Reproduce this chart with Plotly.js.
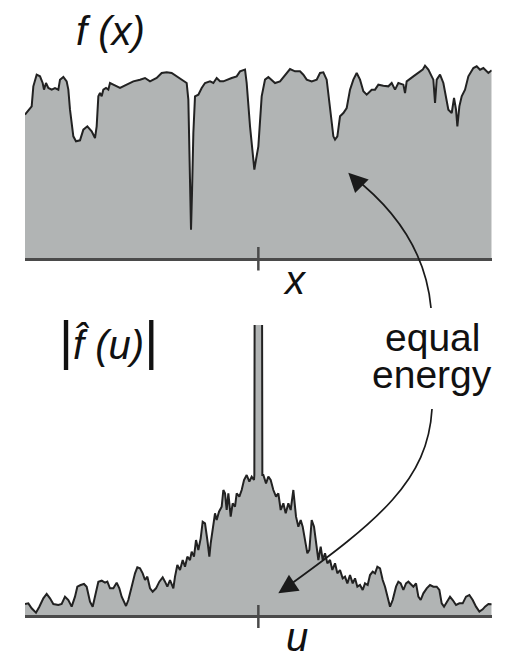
<!DOCTYPE html>
<html>
<head>
<meta charset="utf-8">
<script src="https://cdn.plot.ly/plotly-3.0.1.min.js"></script>
<style>html,body{margin:0;padding:0;background:#fff;}#chart{width:507px;height:653px;}</style>
</head>
<body>
<div id="chart"></div>
<script>
// Signal f(x): positions (x) and heights above the baseline
const signalX = [-700,-685,-680,-675,-665,-655,-647,-643,-637,-630,-620,-610,-600,-595,-585,-575,-570,-565,-555,-547,-535,-525,-513,-500,-490,-485,-480,-475,-470,-465,-457,-450,-445,-435,-415,-395,-375,-355,-340,-325,-305,-290,-275,-260,-245,-230,-220,-215,-210,-205,-202,-199,-195,-190,-180,-170,-160,-145,-135,-125,-115,-105,-95,-80,-65,-55,-40,-35,-25,-15,-12,-7,0,10,20,30,40,50,65,80,95,110,125,135,145,160,175,185,195,205,215,225,230,237,245,255,265,275,285,295,305,315,325,340,350,360,375,390,400,410,420,435,440,445,465,480,493,500,510,520,525,530,535,545,555,570,580,587,593,597,603,610,620,630,645,655,665,675,685,690,700];
const signalY = [430,450,455,515,550,545,525,505,525,510,505,510,505,535,543,530,505,445,365,350,353,385,395,380,360,395,485,495,485,505,510,505,525,520,510,520,530,535,540,530,540,555,557,555,545,535,530,525,475,175,85,195,375,485,490,510,525,530,525,540,530,530,535,540,545,560,565,525,395,295,265,295,335,485,535,543,535,525,530,550,567,560,560,550,535,530,535,555,557,535,455,365,355,365,425,435,450,505,535,555,535,500,490,505,505,520,517,515,525,505,525,520,495,530,545,555,565,577,565,545,535,465,535,550,525,445,435,480,445,395,455,485,505,545,570,575,565,570,560,555,563];

// Spectrum |f^(u)|: frequencies (u) and magnitudes (the central spike runs off the top)
const spectrumX = [-700,-690,-680,-667,-657,-645,-635,-625,-615,-600,-590,-580,-570,-560,-550,-543,-533,-523,-515,-505,-497,-490,-480,-470,-460,-453,-445,-435,-425,-417,-410,-397,-390,-380,-370,-363,-355,-347,-340,-333,-325,-317,-307,-297,-287,-280,-273,-265,-255,-250,-243,-235,-227,-220,-213,-205,-200,-193,-187,-180,-173,-167,-160,-153,-147,-143,-137,-130,-125,-118,-110,-105,-100,-95,-90,-83,-77,-70,-65,-57,-50,-43,-35,-27,-20,-13,-12,-11,-10,10,11,12,15,23,30,37,45,53,60,67,75,82,90,97,105,113,120,127,133,140,147,153,160,167,173,180,187,193,200,207,215,222,230,237,245,253,260,267,275,283,290,297,305,313,320,328,335,343,350,357,365,373,380,387,395,403,413,420,427,435,443,450,457,465,473,480,487,495,505,515,525,535,543,550,557,565,575,583,593,603,613,623,633,643,653,663,673,680,690,700];
const spectrumY = [33,35,20,7,25,50,63,50,33,30,33,55,45,25,55,85,90,93,85,40,25,55,100,103,97,100,80,80,97,80,55,27,45,85,125,143,140,125,105,115,80,70,80,100,113,100,85,105,80,115,150,135,165,145,175,165,190,175,225,195,230,280,275,225,175,215,265,305,285,310,325,375,365,315,365,295,335,325,365,355,375,405,420,400,415,405,420,1000,3000,3000,1000,420,420,395,415,405,375,355,365,315,335,305,335,315,375,295,265,285,265,225,185,195,285,265,215,165,205,165,185,155,165,135,155,125,135,110,115,95,120,95,110,85,90,75,95,90,120,130,125,145,140,105,85,55,25,45,85,100,95,75,95,100,93,85,95,55,45,65,80,90,85,85,75,35,25,40,55,45,30,35,35,55,60,45,25,10,17,25,33,32];

const xTitle = '<i>x</i>';
const uTitle = '<i>u</i>';
const fTitle = '<i>f (x)</i>';
const FTitle = '<span style="font-size:54px">|</span><i>f\u0302 (u)</i><span style="font-size:54px">|</span>';
const note1 = 'equal';
const note2 = 'energy';

const W = 507, H = 653;
const px = (x) => x / W;
const py = (y) => 1 - y / H;

const lineColor = '#222222';
const fillColor = '#b1b4b4';
const axisColor = '#4a4a4a';
const FONT = 'Liberation Sans, Arial, sans-serif';

const traces = [
  {x: signalX, y: signalY, type: 'scatter', mode: 'lines', fill: 'tozeroy',
   fillcolor: fillColor, line: {color: lineColor, width: 2}, xaxis: 'x', yaxis: 'y', hoverinfo: 'skip'},
  {x: spectrumX, y: spectrumY, type: 'scatter', mode: 'lines', fill: 'tozeroy',
   fillcolor: fillColor, line: {color: lineColor, width: 2}, xaxis: 'x2', yaxis: 'y2', hoverinfo: 'skip'}
];

const xdom = [px(25), px(491.7)];
const axX = {domain: xdom, range: [-700, 700], showgrid: false, zeroline: false, showticklabels: false,
  ticks: '', showline: true, linecolor: axisColor, linewidth: 3, fixedrange: true};
const axY = {showgrid: false, zeroline: false, showticklabels: false, ticks: '', showline: false, fixedrange: true};

const layout = {
  width: W, height: H,
  margin: {l: 0, r: 0, t: 0, b: 0, pad: 0},
  paper_bgcolor: '#ffffff', plot_bgcolor: 'rgba(0,0,0,0)',
  showlegend: false,
  font: {family: FONT, color: '#111'},
  xaxis: Object.assign({}, axX, {anchor: 'y'}),
  yaxis: Object.assign({}, axY, {domain: [py(258), py(60)], range: [0, 594], anchor: 'x'}),
  xaxis2: Object.assign({}, axX, {anchor: 'y2'}),
  yaxis2: Object.assign({}, axY, {domain: [py(615), py(325)], range: [0, 870], anchor: 'x2'}),
  shapes: [
    {type: 'line', xref: 'x', x0: 0, x1: 0, yref: 'paper', y0: py(247), y1: py(270.5), line: {color: axisColor, width: 2.5}},
    {type: 'line', xref: 'x2', x0: 0, x1: 0, yref: 'paper', y0: py(605), y1: py(628), line: {color: axisColor, width: 2.5}},
    {type: 'path', xref: 'paper', yref: 'paper',
     path: `M${px(431)},${py(308)} C${px(426)},${py(252)} ${px(396)},${py(210)} ${px(352)},${py(176)}`,
     line: {color: '#1a1a1a', width: 1.7}},
    {type: 'path', xref: 'paper', yref: 'paper',
     path: `M${px(432)},${py(409)} C${px(428)},${py(480)} ${px(380)},${py(520)} ${px(284)},${py(589)}`,
     line: {color: '#1a1a1a', width: 1.7}}
  ],
  annotations: [
    {xref: 'paper', yref: 'paper', x: px(348.3), y: py(172.7), text: '', showarrow: true,
     arrowhead: 2, arrowsize: 2.4, arrowwidth: 1.6, arrowcolor: '#1a1a1a', ax: 12, ay: 12, standoff: 0},
    {xref: 'paper', yref: 'paper', x: px(278.3), y: py(593.3), text: '', showarrow: true,
     arrowhead: 2, arrowsize: 2.4, arrowwidth: 1.6, arrowcolor: '#1a1a1a', ax: 15, ay: -10, standoff: 0},
    {xref: 'paper', yref: 'paper', x: px(74), y: py(31), xanchor: 'left', yanchor: 'middle', showarrow: false,
     text: fTitle, font: {size: 40, family: FONT, color: '#111'}},
    {xref: 'paper', yref: 'paper', x: px(57), y: py(340), xanchor: 'left', yanchor: 'middle', showarrow: false,
     text: FTitle, font: {size: 40, family: FONT, color: '#111'}},
    {xref: 'paper', yref: 'paper', x: px(432), y: py(337), xanchor: 'center', yanchor: 'middle', showarrow: false,
     text: note1, font: {size: 39, family: FONT, color: '#111'}},
    {xref: 'paper', yref: 'paper', x: px(432), y: py(374), xanchor: 'center', yanchor: 'middle', showarrow: false,
     text: note2, font: {size: 39, family: FONT, color: '#111'}},
    {xref: 'paper', yref: 'paper', x: px(295), y: py(280), xanchor: 'center', yanchor: 'middle', showarrow: false,
     text: xTitle, font: {size: 40, family: FONT, color: '#111'}},
    {xref: 'paper', yref: 'paper', x: px(297), y: py(637), xanchor: 'center', yanchor: 'middle', showarrow: false,
     text: uTitle, font: {size: 40, family: FONT, color: '#111'}}
  ]
};

Plotly.newPlot('chart', traces, layout, {staticPlot: true, displayModeBar: false});
</script>
</body>
</html>
